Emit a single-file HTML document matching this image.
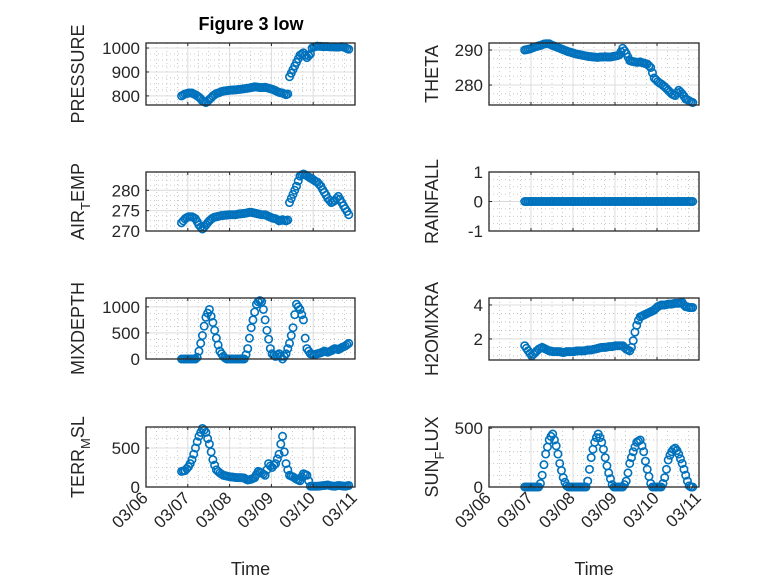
<!DOCTYPE html>
<html><head><meta charset="utf-8"><style>
html,body{margin:0;padding:0;background:#fff;}
svg{display:block;font-family:"Liberation Sans","DejaVu Sans",sans-serif;}
</style></head><body>
<svg id="fig" width="778" height="583" viewBox="0 0 778 583">
<rect width="778" height="583" fill="#fff"/>
<text x="251" y="30" text-anchor="middle" font-size="18" font-weight="bold" fill="#000">Figure 3 low</text>
</svg>
<script>
const times = [];
for (let i = 0; i <= 96; i++) times.push(6.85 + i / 24);
const xTickLabels = ["03/06","03/07","03/08","03/09","03/10","03/11"];
const pressure = [800,804,808,810,812,812,812,808,805,800,795,788,780,776,772,778,785,792,800,805,810,812,815,818,820,821,822,823,824,824,825,825,826,827,828,829,830,831,832,833,835,836,838,837,836,835,835,835,836,834,832,830,828,825,822,818,815,813,812,808,805,808,880,895,910,925,940,955,970,975,980,970,960,968,975,1000,1005,1006,1008,1007,1007,1006,1006,1006,1006,1005,1005,1005,1005,1004,1004,1005,1006,1004,1002,998,995];
const theta = [290,290.1,290.2,290.3,290.5,290.7,290.9,291,291.2,291.3,291.5,291.7,291.8,291.8,291.8,291.5,291.3,291.1,290.9,290.7,290.5,290.3,290.1,289.9,289.7,289.5,289.4,289.2,289.1,288.9,288.8,288.7,288.6,288.5,288.4,288.3,288.2,288.1,288.1,288,288,287.9,287.9,288,288,288,288.1,288,288,288,288.1,288.2,288.3,288.4,288.6,289.5,290.5,289.8,289,288,287,286.8,286.7,286.6,286.5,286.5,286.6,286.4,286.3,286.1,286,285.5,285,283.5,282,281.5,281,280.6,280.3,279.9,279.5,279,278.5,278,277.5,277.2,277,277.8,278.5,278,277.5,276.8,276,275.8,275.5,275.2,275];
const airTemp = [272,272.5,273,273.3,273.5,273.5,273.5,273.3,273,272.3,271.5,271,270.5,271,271.5,272,272.5,272.9,273.2,273.4,273.5,273.6,273.7,273.8,273.8,273.9,273.9,274,274,274,274,274,274.1,274.2,274.2,274.3,274.3,274.4,274.5,274.6,274.6,274.5,274.4,274.3,274.2,274.1,274,274,274,273.8,273.6,273.4,273.2,273.1,273,272.8,272.5,272.6,272.8,272.6,272.5,272.7,277,278,279,280,281,282.3,283.5,283.8,284,283.8,283.6,283.3,283,282.8,282.5,282.2,282,281.5,281,280.2,279.5,278.8,278,277.5,277,277.2,277.5,278,278.5,277.8,277,276.2,275.5,274.8,274];
const mixDepth = [0,0,0,0,0,0,0,0,0,30,150,300,450,630,800,880,950,820,700,550,400,270,150,100,50,20,0,0,0,0,0,0,0,0,0,0,0,80,200,400,600,750,900,1050,1100,1120,1100,950,750,550,380,200,100,70,50,80,100,50,0,50,100,200,300,450,600,850,1050,1000,950,850,750,400,200,150,100,90,80,90,100,110,120,135,150,140,130,145,160,180,200,190,180,200,220,235,250,275,300];
const terrMsl = [200,205,210,235,260,300,350,420,500,580,650,700,750,730,700,620,550,450,350,280,220,200,180,165,150,145,140,135,130,128,125,122,120,120,120,118,115,100,90,95,100,110,120,160,200,190,180,165,150,220,300,270,250,280,300,360,420,550,650,450,300,220,150,140,130,115,100,90,80,130,170,160,150,80,10,10,10,10,10,12,15,18,20,22,25,20,15,12,10,15,20,18,15,12,10,15,20];
const rainfall = [0,0,0,0,0,0,0,0,0,0,0,0,0,0,0,0,0,0,0,0,0,0,0,0,0,0,0,0,0,0,0,0,0,0,0,0,0,0,0,0,0,0,0,0,0,0,0,0,0,0,0,0,0,0,0,0,0,0,0,0,0,0,0,0,0,0,0,0,0,0,0,0,0,0,0,0,0,0,0,0,0,0,0,0,0,0,0,0,0,0,0,0,0,0,0,0,0];
const h2oMix = [1.6,1.45,1.3,1.15,1.0,1.1,1.2,1.3,1.4,1.45,1.5,1.45,1.4,1.35,1.3,1.28,1.25,1.25,1.25,1.25,1.25,1.22,1.2,1.22,1.25,1.25,1.25,1.25,1.25,1.28,1.3,1.3,1.3,1.3,1.3,1.32,1.35,1.35,1.35,1.38,1.4,1.42,1.45,1.48,1.5,1.5,1.5,1.52,1.55,1.55,1.55,1.58,1.6,1.6,1.6,1.6,1.6,1.5,1.4,1.35,1.3,1.5,1.9,2.4,2.8,3.1,3.3,3.35,3.4,3.45,3.5,3.55,3.6,3.65,3.7,3.8,3.9,3.95,4.0,4.0,4.0,4.02,4.05,4.05,4.05,4.08,4.1,4.1,4.1,4.12,4.15,4.0,3.9,3.88,3.85,3.85,3.85];
const sunFlux = [0,0,0,0,0,0,0,0,0,30,100,190,280,340,400,430,450,400,350,280,200,140,80,40,10,0,0,0,0,0,0,0,0,0,0,0,50,150,250,320,380,420,450,420,380,320,250,180,120,70,20,0,0,0,0,0,0,20,50,120,200,250,300,340,380,390,400,350,300,220,150,90,30,0,0,0,0,0,0,30,80,150,230,270,300,320,330,310,280,240,200,150,100,50,10,0,0];

const NS = "http://www.w3.org/2000/svg";
const svg = document.getElementById('fig');
function mk(tag, attrs, parent) {
  const e = document.createElementNS(NS, tag);
  for (const k in attrs) e.setAttribute(k, attrs[k]);
  (parent || svg).appendChild(e);
  return e;
}
function drawPanel(p) {
  const g = mk('g', {});
  
  
  const {x0, x1, y0, y1, ymin, ymax} = p;
  const xs = d => x0 + (d - 6) / 5 * (x1 - x0);
  const ys = v => y1 - (v - ymin) / (ymax - ymin) * (y1 - y0);
  for (let d = 6; d <= 11.001; d += 0.25) {
    if (Math.abs(d - Math.round(d)) < 1e-6) continue;
    mk('line', {x1: xs(d), x2: xs(d), y1: y0, y2: y1, stroke: '#bbb', 'stroke-width': 0.8, 'stroke-dasharray': '1,3'}, g);
  }
  for (let v = Math.ceil(ymin / p.minor) * p.minor; v <= ymax; v += p.minor) {
    mk('line', {x1: x0, x2: x1, y1: ys(v), y2: ys(v), stroke: '#bbb', 'stroke-width': 0.8, 'stroke-dasharray': '1,3'}, g);
  }
  for (let d = 7; d <= 10; d++) mk('line', {x1: xs(d), x2: xs(d), y1: y0, y2: y1, stroke: '#dcdcdc', 'stroke-width': 1}, g);
  p.yticks.forEach(v => mk('line', {x1: x0, x2: x1, y1: ys(v), y2: ys(v), stroke: '#dcdcdc', 'stroke-width': 1}, g));
  p.data.forEach((v, i) => {
    const c = mk('circle', {cx: xs(times[i]), cy: ys(v), r: 3.7, fill: 'none', stroke: '#0072BD', 'stroke-width': 1.6}, g);
    
    
  });
  mk('rect', {x: x0, y: y0, width: x1 - x0, height: y1 - y0, fill: 'none', stroke: '#262626', 'stroke-width': 1.3}, g);
  for (let d = 6; d <= 11; d++) {
    mk('line', {x1: xs(d), x2: xs(d), y1: y1, y2: y1 - 3, stroke: '#262626'}, g);
    mk('line', {x1: xs(d), x2: xs(d), y1: y0, y2: y0 + 3, stroke: '#262626'}, g);
  }
  p.yticks.forEach((v, i) => {
    mk('line', {x1: x0, x2: x0 + 3, y1: ys(v), y2: ys(v), stroke: '#262626'}, g);
    const t = mk('text', {x: x0 - 6, y: ys(v) + 6, 'text-anchor': 'end', 'font-size': 17, fill: '#262626'}, g);
    t.textContent = p.ytickLabels[i];
    
    
  });
  const lx = p.labelX, ly = (y0 + y1) / 2;
  const yl = mk('text', {x: lx, y: ly, transform: `rotate(-90 ${lx} ${ly})`, 'text-anchor': 'middle', 'font-size': 18, fill: '#262626'}, g);
  yl.innerHTML = p.label;
  
  
  if (p.bottom) {
    xTickLabels.forEach((lab, i) => {
      const tx = xs(6 + i) + 3, ty = y1 + 12;
      const t = mk('text', {x: tx, y: ty, transform: `rotate(-45 ${tx} ${ty})`, 'text-anchor': 'end', 'font-size': 17, fill: '#262626'}, g);
      t.textContent = lab;
      
      
    });
    const xt = mk('text', {x: (x0 + x1) / 2, y: 575, 'text-anchor': 'middle', 'font-size': 18, fill: '#262626'}, g);
    xt.textContent = 'Time';
    
    
  }
}
const L = {x0: 146, x1: 355, labelX: 84};
const R = {x0: 489, x1: 699, labelX: 438};
const sub = s => `<tspan dy="6" font-size="13">${s}</tspan><tspan dy="-6">`;
drawPanel({...L, name: 'pressure', y0: 43, y1: 105, ymin: 762, ymax: 1021, minor: 25, yticks: [800, 900, 1000], ytickLabels: ['800', '900', '1000'], data: pressure, label: 'PRESSURE'});
drawPanel({...R, name: 'theta', y0: 43, y1: 105, ymin: 274.3, ymax: 292, minor: 2.5, yticks: [280, 290], ytickLabels: ['280', '290'], data: theta, label: 'THETA'});
drawPanel({...L, name: 'air-temp', y0: 172, y1: 231, ymin: 270, ymax: 284.5, minor: 1.25, yticks: [270, 275, 280], ytickLabels: ['270', '275', '280'], data: airTemp, label: 'AIR' + sub('T') + 'EMP</tspan>'});
drawPanel({...R, name: 'rainfall', y0: 172, y1: 231, ymin: -1, ymax: 1, minor: 0.25, yticks: [-1, 0, 1], ytickLabels: ['-1', '0', '1'], data: rainfall, label: 'RAINFALL'});
drawPanel({...L, name: 'mixdepth', y0: 298, y1: 359, ymin: 0, ymax: 1170, minor: 125, yticks: [0, 500, 1000], ytickLabels: ['0', '500', '1000'], data: mixDepth, label: 'MIXDEPTH'});
drawPanel({...R, name: 'h2omixra', y0: 298, y1: 360, ymin: 0.76, ymax: 4.41, minor: 0.5, yticks: [2, 4], ytickLabels: ['2', '4'], data: h2oMix, label: 'H2OMIXRA'});
drawPanel({...L, name: 'terr-msl', y0: 427, y1: 487, ymin: 0, ymax: 769, minor: 125, yticks: [0, 500], ytickLabels: ['0', '500'], data: terrMsl, label: 'TERR' + sub('M') + 'SL</tspan>', bottom: true});
drawPanel({...R, name: 'sun-flux', y0: 427, y1: 487, ymin: 0, ymax: 510, minor: 100, yticks: [0, 500], ytickLabels: ['0', '500'], data: sunFlux, label: 'SUN' + sub('F') + 'LUX</tspan>', bottom: true});
</script>
</body></html>
